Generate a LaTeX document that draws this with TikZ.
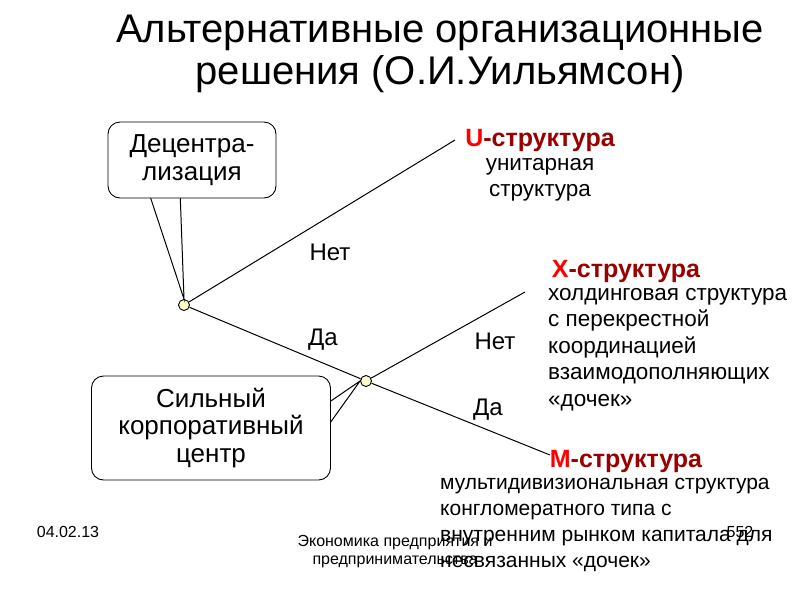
\documentclass[tikz,border=0pt]{standalone}
\usepackage{fontspec}
\setmainfont{Liberation Sans}
\begin{document}
\begin{tikzpicture}[x=1pt,y=-1pt,
  txt/.style={font=\fontsize{24}{26.5}\selectfont,inner sep=0pt},
  box/.style={draw,rounded corners=12pt,line width=0.9pt,fill=white,align=center,font=\fontsize{26}{27.5}\selectfont},
  dot/.style={circle,draw,fill=yellow!20,minimum size=11pt,inner sep=0pt,line width=0.9pt},
  hd/.style={font=\bfseries\fontsize{25}{28}\selectfont,text=red!60!black,inner sep=0pt},
  ln/.style={line width=1pt}]
\useasboundingbox (0,0) rectangle (800,600);
\node[font=\fontsize{40}{42}\selectfont,align=center,inner sep=0pt] (title) at (440,54) {Альтернативные организационные\\решения (О.И.Уильямсон)};
\coordinate (uend) at (455,140);
\coordinate (xend) at (525,292);
\coordinate (mend) at (550,455);
\node[dot] (n1) at (184,305) {};
\node[dot] (n2) at (366,381) {};
\draw[ln] (n1) -- (uend);
\draw[ln] (n1) -- (n2);
\draw[ln] (n2) -- (xend);
\draw[ln] (n2) -- (mend);
% callout 1
\coordinate (c1a) at (148,190);
\coordinate (c1b) at (180,190);
\draw[ln] (c1a) -- (n1.north) -- (c1b);
\node[box,minimum width=168pt,minimum height=76pt] (dec) at (192,160) {Децентра-\\лизация};
% callout 2
\coordinate (c2a) at (325,405);
\coordinate (c2b) at (325,430);
\draw[ln] (c2a) -- (n2.west) -- (c2b);
\node[box,minimum width=239pt,minimum height=104pt] (cen) at (211,428) {Сильный\\корпоративный\\центр};
\node[txt] (l1) at (330,252) {Нет};
\node[txt] (l2) at (323,340) {Да};
\node[txt] (l3) at (495,341) {Нет};
\node[txt] (l4) at (488,410) {Да};
\node[hd] (uh) at (540,140) {\textcolor{red}{U}-структура};
\node[txt,align=center,font=\fontsize{22.5}{26}\selectfont] (ut) at (540,180) {унитарная\\структура};
\node[hd] (xh) at (626,271) {\textcolor{red}{X}-структура};
\node[txt,align=left,anchor=north west,font=\fontsize{22.5}{26.5}\selectfont] (xt) at (548,288) {холдинговая структура\\с перекрестной\\координацией\\взаимодополняющих\\«дочек»};
\node[hd] (mh) at (626,461) {\textcolor{red}{M}-структура};
\node[txt,align=left,anchor=north west,font=\fontsize{21}{26}\selectfont] (mt) at (440,478) {мультидивизиональная структура\\конгломератного типа с\\внутренним рынком капитала для\\несвязанных «дочек»};
\node[font=\fontsize{16}{18}\selectfont] (f1) at (68,532) {04.02.13};
\node[font=\fontsize{16}{18}\selectfont,align=center,inner sep=0pt] (f2) at (395,552) {Экономика предприятия и\\предпринимательства};
\node[font=\fontsize{16}{18}\selectfont] (f3) at (740,532) {552};
\end{tikzpicture}
\end{document}
